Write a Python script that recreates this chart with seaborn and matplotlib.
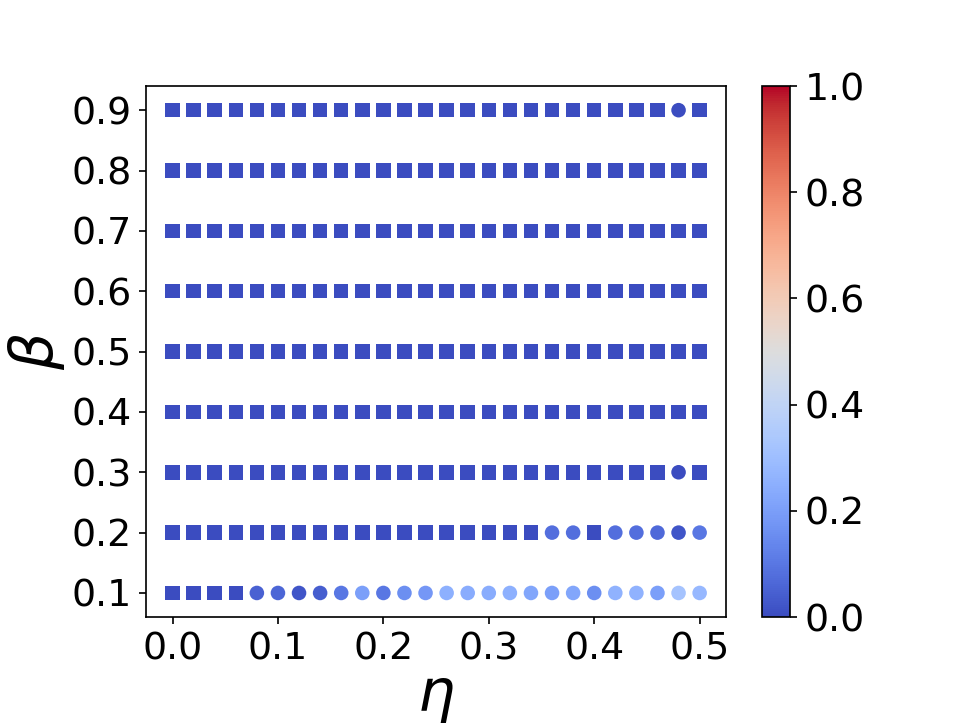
import numpy as np
import pandas as pd
import matplotlib
matplotlib.use('Agg')
from matplotlib import pyplot as plt
import seaborn as sns

# grid of parameters
eta = np.round(np.arange(0, 0.5001, 0.02), 2)
beta = [0.1, 0.2, 0.3, 0.4, 0.5, 0.6, 0.7, 0.8, 0.9]

# order parameter along each beta row
row_01 = [0, 0, 0, 0, 0.05, 0.06, 0.02, 0.04, 0.10, 0.20, 0.10, 0.16, 0.18,
          0.25, 0.24, 0.24, 0.25, 0.22, 0.20, 0.22, 0.16, 0.26, 0.26, 0.20,
          0.32, 0.28]
row_02 = [0] * 18 + [0.08, 0.08, 0, 0.08, 0.08, 0.07, 0.02, 0.10]
row_other = [0] * 26
# circle = state not frozen, square = frozen
shape_01 = ['s'] * 4 + ['o'] * 22
shape_02 = ['s'] * 18 + ['o', 'o', 's', 'o', 'o', 'o', 'o', 'o']
shape_03 = ['s'] * 24 + ['o', 's']
shape_09 = ['s'] * 24 + ['o', 's']
shape_plain = ['s'] * 26

values = [row_01, row_02] + [row_other] * 7
shapes = [shape_01, shape_02, shape_03] + [shape_plain] * 5 + [shape_09]

rows = []
for b, vals, shp in zip(beta, values, shapes):
    for e, v, m in zip(eta, vals, shp):
        rows.append((e, b, v, m))
df = pd.DataFrame(rows, columns=['eta', 'beta', 'val', 'marker'])

# plain matplotlib look (black text, outward ticks)
fig = plt.figure(figsize=(6.4, 4.8), dpi=151.25)
ax = fig.add_axes([0.151, 0.150, 0.599, 0.7315])
cax = fig.add_axes([0.787, 0.150, 0.029, 0.7315])

for m in ['s', 'o']:
    sub = df[df.marker == m]
    sns.scatterplot(data=sub, x='eta', y='beta', hue='val', palette='coolwarm',
                    hue_norm=(0, 1), marker=m, s=48, linewidth=0, legend=False, ax=ax)

ax.set_xticks([0, 0.1, 0.2, 0.3, 0.4, 0.5])
ax.set_yticks(beta)
ax.set_xlabel(r'$\eta$', fontsize=28, labelpad=0)
ax.set_ylabel(r'$\beta$', fontsize=28, labelpad=2)
ax.tick_params(axis='both', labelsize=18)

sm = plt.cm.ScalarMappable(cmap='coolwarm', norm=plt.Normalize(0, 1))
cb = fig.colorbar(sm, cax=cax)
cb.set_ticks([0, 0.2, 0.4, 0.6, 0.8, 1.0])
cb.ax.tick_params(labelsize=18)

fig.savefig('out.png', dpi=151.25)
